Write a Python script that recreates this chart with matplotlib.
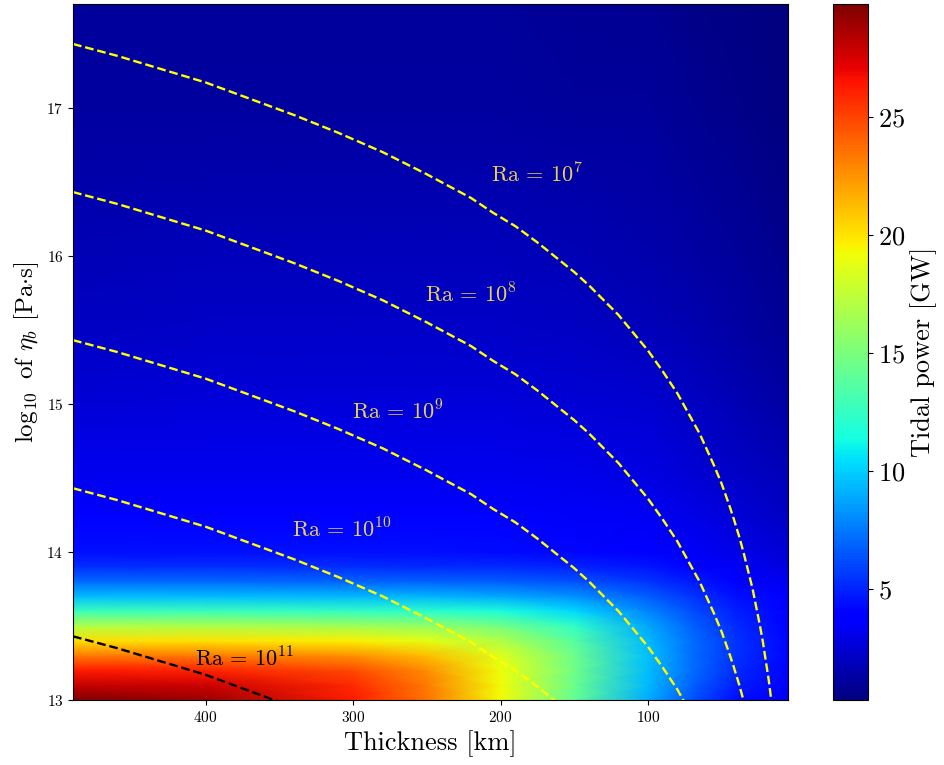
import numpy as np
from matplotlib import pyplot as plt

plt.rcParams['font.family'] = 'serif'
plt.rcParams['font.serif'] = ['cmr10']
plt.rcParams['mathtext.fontset'] = 'cm'
plt.rcParams['axes.formatter.use_mathtext'] = True

# grid: thickness [km] columns, log10 viscosity rows
thickness = [490, 400, 300, 250, 200, 150, 100, 70, 40, 5]
log_visc = [13.0, 13.1, 13.2, 13.3, 13.4, 13.5, 13.6, 13.7, 13.8, 13.9,
            14.0, 14.25, 14.5, 15.0, 15.5, 16.0, 17.0, 17.7]

# tidal power [GW]
power = [
    [29.8, 29.0, 26.3, 23.5, 19.2, 14.2, 9.0, 6.3, 4.3, 3.3],
    [28.0, 27.8, 25.8, 23.3, 19.2, 14.4, 9.3, 6.8, 4.8, 3.7],
    [26.3, 26.1, 24.8, 22.7, 19.1, 14.6, 9.5, 7.1, 5.2, 4.0],
    [23.3, 23.3, 22.6, 21.2, 18.6, 14.5, 9.6, 7.2, 5.4, 4.2],
    [20.2, 20.1, 19.6, 18.8, 17.0, 13.7, 9.4, 7.1, 5.4, 4.2],
    [16.9, 16.8, 16.4, 15.9, 14.8, 12.3, 8.9, 6.8, 5.2, 4.1],
    [12.8, 12.8, 12.5, 12.2, 11.6, 10.3, 7.9, 6.2, 4.9, 3.9],
    [9.5, 9.5, 9.3, 9.2, 8.9, 8.2, 6.7, 5.5, 4.4, 3.6],
    [7.0, 7.0, 6.9, 6.8, 6.7, 6.3, 5.5, 4.7, 3.9, 3.2],
    [5.3, 5.3, 5.3, 5.2, 5.2, 5.0, 4.6, 4.0, 3.4, 2.8],
    [4.4, 4.4, 4.4, 4.4, 4.3, 4.2, 3.9, 3.5, 3.0, 2.5],
    [3.6, 3.6, 3.6, 3.6, 3.6, 3.5, 3.3, 3.0, 2.6, 2.1],
    [3.2, 3.2, 3.2, 3.2, 3.2, 3.1, 2.9, 2.6, 2.2, 1.8],
    [2.6, 2.7, 2.7, 2.7, 2.7, 2.6, 2.4, 2.1, 1.7, 1.3],
    [2.1, 2.2, 2.2, 2.2, 2.2, 2.1, 1.9, 1.6, 1.3, 0.9],
    [1.7, 1.8, 1.8, 1.8, 1.8, 1.7, 1.5, 1.3, 1.0, 0.7],
    [1.2, 1.2, 1.2, 1.2, 1.2, 1.1, 1.0, 0.8, 0.6, 0.4],
    [1.0, 1.0, 1.0, 1.0, 1.0, 0.9, 0.8, 0.6, 0.5, 0.3],
]

# Rayleigh number curves: Ra = 10^7 line,
# the others sit one decade lower each
ra_thickness = [490, 460, 430, 400, 370, 340, 310, 280, 250, 220, 205, 190,
                175, 160, 150, 140, 130, 120, 110, 100, 90, 80, 70, 65, 60,
                55, 50, 45, 42, 38, 35, 32, 29, 26, 24, 22, 20, 18, 16, 14, 12]
ra7_visc = [17.43, 17.35, 17.26, 17.17, 17.06, 16.95, 16.83, 16.70, 16.55,
            16.39, 16.29, 16.20, 16.09, 15.97, 15.89, 15.80, 15.70, 15.60,
            15.48, 15.36, 15.22, 15.07, 14.89, 14.80, 14.69, 14.58, 14.46,
            14.32, 14.23, 14.10, 13.99, 13.87, 13.75, 13.60, 13.50, 13.39,
            13.26, 13.13, 12.97, 12.80, 12.60]
ra_exponents = [7, 8, 9, 10, 11]
ra_colors = ['yellow', 'yellow', 'yellow', 'yellow', 'black']
ra_label_pos = [(175, 16.55), (220, 15.74), (270, 14.95), (308, 14.15), (374, 13.28)]
ra_label_colors = ['#e8d24a', '#e8d24a', '#e8d24a', '#e8d24a', 'black']

fig = plt.figure(figsize=(9.45, 7.65), dpi=100)
ax = fig.add_axes([73 / 945, 65 / 765, 715 / 945, 696 / 765])
cax = fig.add_axes([833 / 945, 65 / 765, 35 / 945, 696 / 765])

mesh = ax.pcolormesh(thickness, log_visc, np.array(power), shading='gouraud', cmap='jet')

for exp, col, pos, tcol in zip(ra_exponents, ra_colors, ra_label_pos, ra_label_colors):
    visc = np.array(ra7_visc) - (exp - 7)
    ax.plot(ra_thickness, visc, '--', color=col, lw=1.7)
    ax.text(pos[0], pos[1], r'$\mathrm{Ra}\,=\,10^{%d}$' % exp, color=tcol,
            fontsize=16, ha='center', va='center')

ax.set_xlim(490, 5)
ax.set_ylim(13, 17.7)
ax.set_xticks([400, 300, 200, 100])
ax.set_yticks([13, 14, 15, 16, 17])
ax.tick_params(labelsize=11)
ax.set_xlabel('Thickness [km]', fontsize=19)
ax.set_ylabel(r'$\log_{10}$ of $\eta_b$ [Pa$\cdot$s]', fontsize=18)

cbar = fig.colorbar(mesh, cax=cax)
cbar.set_ticks([5, 10, 15, 20, 25])
cbar.ax.tick_params(labelsize=19)
cbar.set_label('Tidal power [GW]', fontsize=19)

plt.savefig('out.png', dpi=100)
